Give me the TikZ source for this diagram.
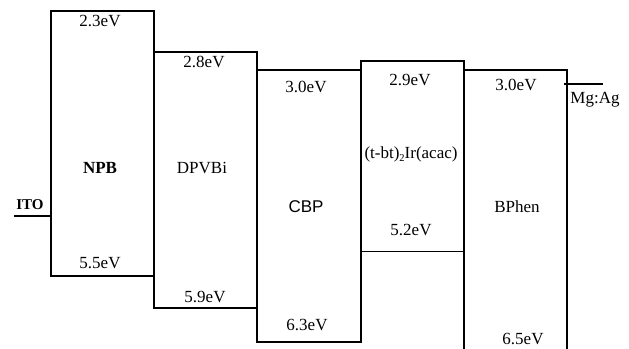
\documentclass[tikz,border=0pt]{standalone}
\usepackage{fontspec}
\setmainfont{Liberation Serif}
\newfontfamily\sanslab{Liberation Sans}
\begin{document}
\begin{tikzpicture}[x=1pt,y=-1pt,
  level/.style={draw=black,line width=1.5pt,line cap=rect},
  lab/.style={anchor=base,inner sep=0pt,font=\fontsize{17}{19}\selectfont}]
\useasboundingbox (0,0) rectangle (629,348);
\clip (0,0) rectangle (629,348);
% electrodes
\coordinate (itoA) at (15,216);
\coordinate (itoB) at (50,216);
\draw[level] (itoA) -- (itoB);
\coordinate (mgA) at (565,84);
\coordinate (mgB) at (602,84);
\draw[level] (mgA) -- (mgB);
% layers
\draw[level] (51,11) rectangle (154,276);
\draw[level] (154,52) rectangle (257,308);
\draw[level] (257,70) rectangle (361,342);
\draw[level] (361,342) -- (361,61) -- (464,61) -- (464,352);
\draw[level] (361,251.5) -- (464,251.5);
\draw[level] (464,70) -- (567,70) -- (567,352);
% labels
\node[lab,font=\bfseries\fontsize{15}{17}\selectfont] (ito) at (30,209) {ITO};
\node[lab] (npbL) at (100,27) {2.3eV};
\node[lab,font=\bfseries\fontsize{17}{19}\selectfont] (npb) at (100,173) {NPB};
\node[lab] (npbH) at (100,268) {5.5eV};
\node[lab] (dpL) at (204,67) {2.8eV};
\node[lab] (dp) at (202,173) {DPVBi};
\node[lab] (dpH) at (205,302) {5.9eV};
\node[lab] (cbL) at (306,92) {3.0eV};
\node[lab,font=\sanslab\fontsize{17}{19}\selectfont] (cb) at (306,212) {CBP};
\node[lab] (cbH) at (307,330) {6.3eV};
\node[lab] (irL) at (410,85) {2.9eV};
\node[lab] (ir) at (411,158) {(t-bt)\raisebox{-0.4ex}{\fontsize{10.5}{11}\selectfont 2}Ir(acac)};
\node[lab] (irH) at (411,235) {5.2eV};
\node[lab] (bpL) at (516,90) {3.0eV};
\node[lab] (bp) at (517,212) {BPhen};
\node[lab] (bpH) at (523,344) {6.5eV};
\node[lab] (mg) at (595,103) {Mg:Ag};
\end{tikzpicture}
\end{document}
